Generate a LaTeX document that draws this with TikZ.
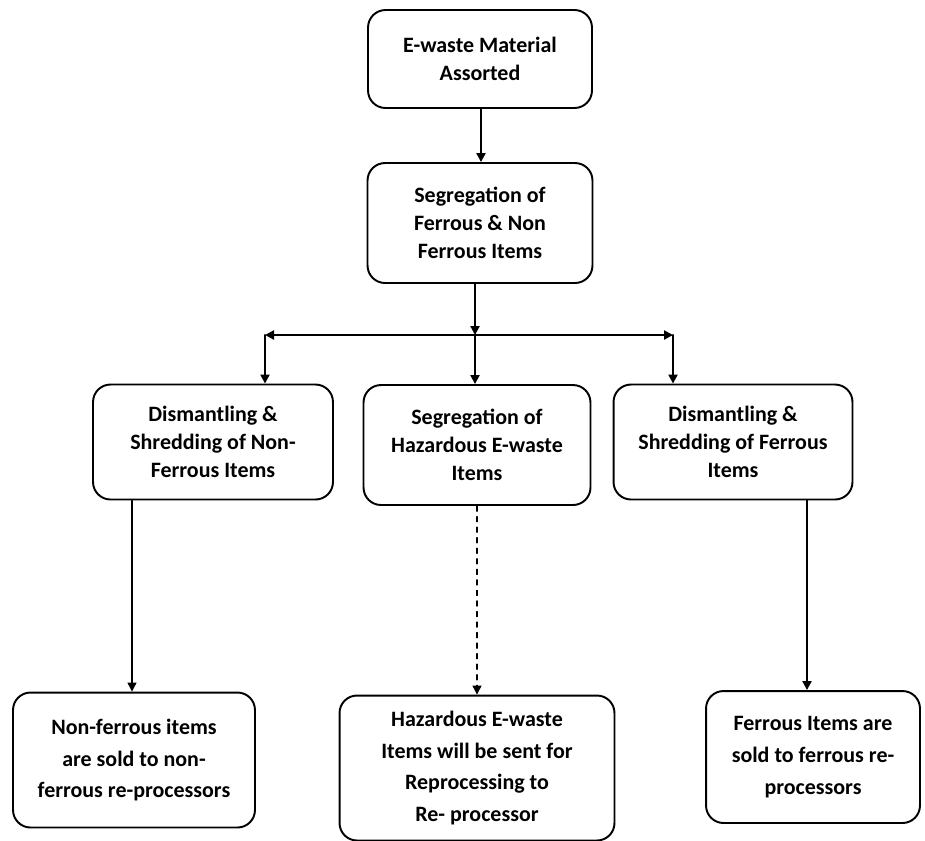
\documentclass[tikz,border=0pt]{standalone}
\usepackage{fontspec}
\setmainfont{Carlito}
\usetikzlibrary{arrows.meta}
\begin{document}
\begin{tikzpicture}[x=0.02cm, y=-0.02cm, font=\bfseries\fontsize{12.5}{15.8}\selectfont, line join=round, line cap=round, >={Triangle[length=1.8mm,width=1.8mm]},
	box/.style={draw, line width=1.1pt, rounded corners=0.35cm, align=center, inner sep=0pt},
	thick line/.style={line width=1.2pt},
	thin line/.style={line width=0.6pt}]
	\useasboundingbox (0,0) rectangle (925,840);
	\node[box, minimum width=4.48cm, minimum height=1.96cm] (mat) at (480,59) {E-waste Material\\Assorted};
	\node[box, minimum width=4.5cm, minimum height=2.4cm] (seg) at (480,223) {Segregation of\\Ferrous \& Non\\Ferrous Items};
	\node[box, minimum width=4.8cm, minimum height=2.3cm] (dnf) at (213,442) {Dismantling \&\\Shredding of Non-\\Ferrous Items};
	\node[box, minimum width=4.54cm, minimum height=2.4cm] (haz) at (477,445) {Segregation of\\Hazardous E-waste\\Items};
	\node[box, minimum width=4.78cm, minimum height=2.3cm] (df) at (733,442) {Dismantling \&\\Shredding of Ferrous\\Items};
	\node[box, minimum width=4.84cm, minimum height=2.7cm, font=\bfseries\fontsize{12.5}{18}\selectfont] (snf) at (134,760) {Non-ferrous items\\are sold to non-\\ferrous re-processors};
	\node[box, minimum width=5.5cm, minimum height=2.9cm, font=\bfseries\fontsize{12.5}{18}\selectfont] (shz) at (477,768) {Hazardous E-waste\\Items will be sent for\\Reprocessing to\\Re- processor};
	\node[box, minimum width=4.28cm, minimum height=2.64cm, font=\bfseries\fontsize{12.5}{18}\selectfont] (sf) at (813,757) {Ferrous Items are\\sold to ferrous re-\\processors};
	% branching point and corners
	\coordinate (jn) at (475,335);
	\coordinate (jl) at (265,335);
	\coordinate (jr) at (673,335);
	\draw[->, thick line] (mat.south -| 481,0) -- (seg.north -| 481,0);
	\draw[->, thick line] (seg.south -| jn) -- (jn);
	\draw[->, thick line] (jn) -- (jl);
	\draw[->, thick line] (jn) -- (jr);
	\draw[->, thick line] (jl) -- (jl |- dnf.north);
	\draw[->, thick line] (jr) -- (jr |- df.north);
	\draw[->, thick line] (jn) -- (jn |- haz.north);
	\draw[->, thin line] (dnf.south -| 132,0) -- (snf.north -| 132,0);
	\draw[->, thin line, dashed] (haz.south) -- (shz.north);
	\draw[->, thick line] (df.south -| 807,0) -- (sf.north -| 807,0);
\end{tikzpicture}
\end{document}
